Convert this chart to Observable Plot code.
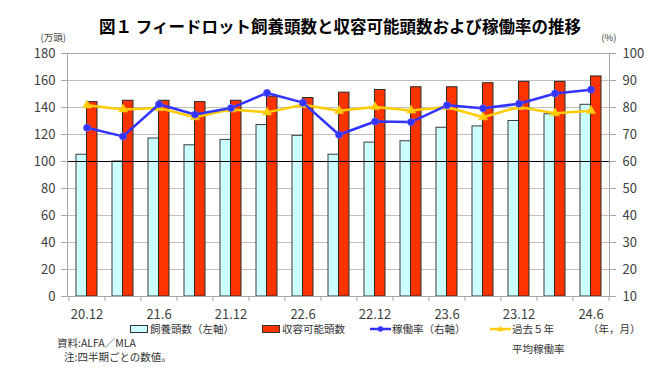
<!DOCTYPE html>
<html><head><meta charset="utf-8">
<script src="https://cdn.jsdelivr.net/npm/d3@7"></script>
<script src="https://cdn.jsdelivr.net/npm/@observablehq/plot@0.6"></script>
<style>
body{margin:0;background:#fff;font-family:'Noto Sans CJK JP',sans-serif;}
#wrap{position:relative;width:650px;height:368px;overflow:hidden;background:#fff}
#title{height:30px;box-sizing:border-box;padding-top:16px;line-height:20px;padding-left:30px;text-align:center;font-size:16.5px;font-weight:bold;color:#000;white-space:nowrap;overflow:visible}
#chart svg{display:block}
#legend{position:relative;height:40px;font-size:10.5px;color:#333}
.it{position:absolute;white-space:nowrap;line-height:12px}
.sw{position:absolute;box-sizing:border-box;border:1px solid #333}
.ic{position:absolute}
</style></head><body>
<div id="wrap">
<div id="title">図１ フィードロット飼養頭数と収容可能頭数および稼働率の推移</div>
<div id="chart"></div>
<div id="legend">
  <div class="sw" style="left:130px;top:-3px;width:18px;height:8px;background:#ccffff"></div>
  <div class="it" style="left:150px;top:-5px">飼養頭数（左軸）</div>
  <div class="sw" style="left:262px;top:-3px;width:18px;height:8px;background:#ff3300"></div>
  <div class="it" style="left:282px;top:-5px">収容可能頭数</div>
  <svg class="ic" style="left:370px;top:-4px" width="21" height="10"><line x1="0" y1="5" x2="21" y2="5" stroke="#3333ff" stroke-width="2.5"/><circle cx="10.5" cy="5" r="2.7" fill="#3333ff"/></svg>
  <div class="it" style="left:392px;top:-5px">稼働率（右軸）</div>
  <svg class="ic" style="left:490px;top:-4px" width="21" height="10"><line x1="0" y1="5" x2="21" y2="5" stroke="#ffcc00" stroke-width="2.5"/><path d="M10.5,1.8 L13.6,7.2 L7.4,7.2 Z" fill="#ffcc00"/></svg>
  <div class="it" style="left:512px;top:-5px">過去５年</div>
  <div class="it" style="left:512px;top:15px">平均稼働率</div>
  <div class="it" style="left:588px;top:-5px">（年，月）</div>
  <div class="it" style="left:57px;top:9px">資料:ALFA／MLA</div>
  <div class="it" style="left:64px;top:23px">注:四半期ごとの数値。</div>
</div>
</div>
<script>
const quarters = ["20.12","21.3","21.6","21.9","21.12","22.3","22.6","22.9","22.12","23.3","23.6","23.9","23.12","24.3","24.6"];
const headCount = [105, 100, 117, 112, 116, 127, 119, 105, 114, 115, 125, 126, 130, 135, 142];
const capacity = [144, 145, 145, 144, 145, 148, 147, 151, 153, 155, 155, 158, 159, 159, 163];
const occupancy = [72.5, 69.3, 81.2, 77.4, 79.8, 85.4, 81.8, 69.9, 74.8, 74.6, 80.8, 79.7, 81.4, 85.2, 86.6];
const avg5yr = [80.8, 79.3, 79.8, 76.4, 79.3, 78.2, 81.0, 78.8, 80.2, 78.9, 80.2, 76.4, 80.2, 77.9, 78.8];
const leftTicks = [0, 20, 40, 60, 80, 100, 120, 140, 160, 180];
const rightTicks = [10, 20, 30, 40, 50, 60, 70, 80, 90, 100];
const xTickLabels = ["20.12","21.6","21.12","22.6","22.12","23.6","23.12","24.6"];
const emphasisLine = [100];

const W = 650, H = 298, ML = 67, MR = 41, MT = 23, MB = 32;
const PAD_IN = 0.42;
const step = (W - ML - MR) / quarters.length;
const halfBand = step * (1 - PAD_IN) / 2;
const rows = quarters.map((q, i) => ({q, head: headCount[i], cap: capacity[i], rate: occupancy[i], avg: avg5yr[i]}));
// right axis (%) shares the frame with left axis: 180 <-> 100, 0 <-> 10
const toLeft = r => (r - 10) * 2;
const toRight = v => v / 2 + 10;

const chart = Plot.plot({
  width: W, height: H,
  marginLeft: ML, marginRight: MR, marginTop: MT, marginBottom: MB,
  style: {fontFamily: "'Noto Sans CJK JP', sans-serif", fontSize: "13px", color: "#404040", background: "#fff"},
  x: {type: "band", domain: quarters, paddingInner: PAD_IN, paddingOuter: PAD_IN / 2, axis: null},
  y: {domain: [0, 180], axis: null},
  marks: [
    Plot.gridY({ticks: leftTicks, stroke: "#bfbfbf", strokeOpacity: 1, strokeWidth: 1.2}),
    Plot.barY(rows, {x: "q", y: "head", fill: "#ccffff", stroke: "#3a3a3a", strokeWidth: 1, insetRight: halfBand}),
    Plot.barY(rows, {x: "q", y: "cap", fill: "#ff3300", stroke: "#2a2a2a", strokeWidth: 1, insetLeft: halfBand}),
    Plot.ruleY(emphasisLine, {stroke: "#000", strokeWidth: 1.2}),
    Plot.frame({stroke: "#a6a6a6"}),
    Plot.axisY({anchor: "left", ticks: leftTicks, tickSize: 6, tickPadding: 6, stroke: "#a6a6a6", label: null}),
    Plot.axisY({anchor: "right", ticks: rightTicks.map(toLeft), tickFormat: toRight, tickSize: 6, tickPadding: 7, stroke: "#a6a6a6", label: null}),
    Plot.axisX({ticks: xTickLabels, tickSize: 0, tickPadding: 13, label: null}),
    Plot.axisX({ticks: quarters, tickSize: 5, tickFormat: () => "", dx: -step / 2, stroke: "#a6a6a6", label: null}),
    Plot.axisX({ticks: quarters.slice(-1), tickSize: 5, tickFormat: () => "", dx: step / 2, stroke: "#a6a6a6", label: null}),
    Plot.line(rows, {x: "q", y: d => toLeft(d.avg), stroke: "#ffcc00", strokeWidth: 2.5}),
    Plot.dot(rows, {x: "q", y: d => toLeft(d.avg), symbol: "triangle", r: 3.4, fill: "#ffcc00", stroke: "#ffd633", strokeWidth: 0.5}),
    Plot.line(rows, {x: "q", y: d => toLeft(d.rate), stroke: "#3333ff", strokeWidth: 2.5}),
    Plot.dot(rows, {x: "q", y: d => toLeft(d.rate), r: 3.6, fill: "#3333ff", stroke: "#6666ff", strokeWidth: 0.6}),
    Plot.text(["(万頭)"], {frameAnchor: "top-left", dx: -27, dy: -19, fontSize: 9.5, fill: "#404040"}),
    Plot.text(["(%)"], {frameAnchor: "top-right", dx: 7, dy: -19, fontSize: 9.5, fill: "#404040"})
  ]
});
document.getElementById("chart").appendChild(chart);
</script>
</body></html>
